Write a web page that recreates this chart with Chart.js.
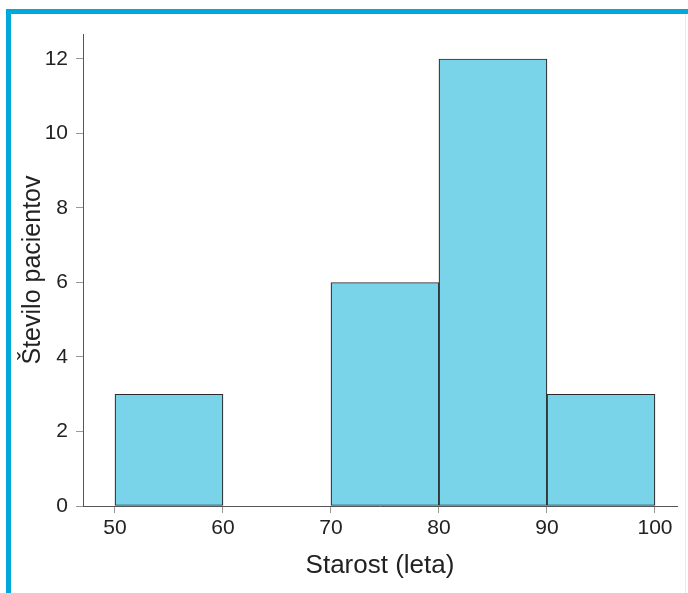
<!DOCTYPE html>
<html>
<head>
    <meta charset="UTF-8">
    <script src="https://cdn.jsdelivr.net/npm/chart.js@4.4.1/dist/chart.umd.min.js"></script>
    <style>
        html, body { margin: 0; padding: 0; background: #fff; }
        #wrap { position: absolute; left: 0; top: 0; width: 688px; height: 593px; }
        .frame { position: absolute; background: #00a9d9; }
        #frame-top { left: 6px; top: 9px; width: 682px; height: 5px; }
        #frame-left { left: 6px; top: 9px; width: 5px; height: 584px; }
        #frame-right { left: 685px; top: 14px; width: 1px; height: 579px; background: #d6f0f8; }
    </style>
</head>
<body>
<div id="wrap">
    <canvas id="hist"></canvas>
</div>
<div class="frame" id="frame-top"></div>
<div class="frame" id="frame-left"></div>
<div class="frame" id="frame-right"></div>

<script>
    // histogram bins (centre of each 10-year bin) and patient counts
    var binCenters = [55, 65, 75, 85, 95];
    var counts = [3, 0, 6, 12, 3];
    var xTicks = [50, 60, 70, 80, 90, 100];
    var yTicks = [0, 2, 4, 6, 8, 10, 12];

    var points = binCenters.map(function (x, i) {
        return { x: x, y: counts[i] };
    });

    var ctx = document.getElementById("hist").getContext("2d");
    var HistChart = new Chart(ctx, {
        type: 'bar',
        data: {
            datasets: [{
                data: points,
                backgroundColor: '#79d4ea',
                borderColor: '#2b2b2b',
                borderWidth: 1.2,
                borderSkipped: false,
                barPercentage: 1,
                categoryPercentage: 1
            }]
        },
        options: {
            responsive: true,
            maintainAspectRatio: false,
            animation: false,
            layout: { padding: { left: 0, top: 34, right: 11, bottom: 0 } },
            plugins: { legend: { display: false }, tooltip: { enabled: false } },
            scales: {
                x: {
                    type: 'linear',
                    min: 47.04,
                    max: 102.04,
                    offset: false,
                    afterFit: function (scale) { scale.height = 87; },
                    afterBuildTicks: function (scale) {
                        scale.ticks = xTicks.map(function (v) { return { value: v }; });
                    },
                    grid: { drawOnChartArea: false, offset: false, tickLength: 7, tickColor: '#999', tickWidth: 1 },
                    border: { color: '#555', width: 1 },
                    ticks: {
                        font: { family: 'Liberation Sans', size: 21 },
                        color: '#222',
                        padding: 3,
                        maxRotation: 0
                    },
                    title: {
                        display: true,
                        text: 'Starost (leta)',
                        font: { family: 'Liberation Sans', size: 26 },
                        color: '#222',
                        padding: { top: 0, bottom: 12 }
                    }
                },
                y: {
                    min: 0,
                    max: 12.67,
                    afterFit: function (scale) { scale.width = 83; },
                    afterBuildTicks: function (scale) {
                        scale.ticks = yTicks.map(function (v) { return { value: v }; });
                    },
                    grid: { drawOnChartArea: false, tickLength: 7, tickColor: '#999', tickWidth: 1 },
                    border: { color: '#555', width: 1 },
                    ticks: {
                        font: { family: 'Liberation Sans', size: 21 },
                        color: '#222',
                        padding: 8
                    },
                    title: {
                        display: true,
                        text: 'Število pacientov',
                        font: { family: 'Liberation Sans', size: 25 },
                        color: '#222',
                        padding: { top: 18, bottom: 0 }
                    }
                }
            }
        }
    });
</script>
</body>
</html>
